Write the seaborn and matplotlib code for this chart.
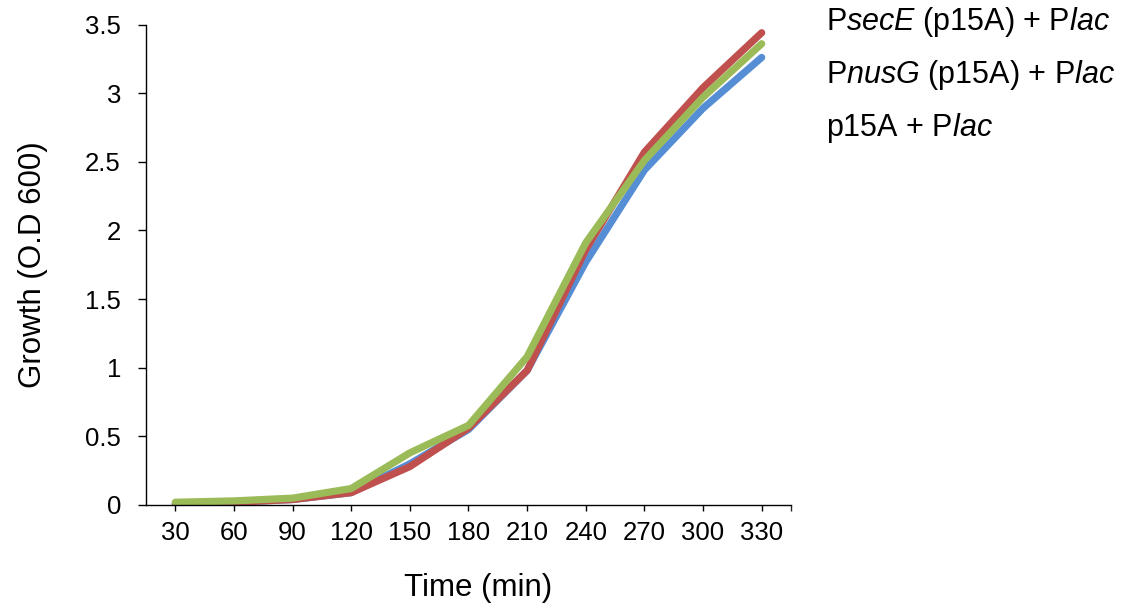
import matplotlib
matplotlib.use("Agg")
import seaborn as sns
from matplotlib import pyplot as plt
from matplotlib.ticker import FuncFormatter, FixedLocator
import pandas as pd

sns.set_theme(style="ticks")
plt.rcParams["font.family"] = ["Liberation Sans", "DejaVu Sans"]
plt.rcParams["mathtext.fontset"] = "custom"
plt.rcParams["mathtext.rm"] = "Liberation Sans"
plt.rcParams["mathtext.it"] = "Liberation Sans:italic"

times = ["30", "60", "90", "120", "150", "180", "210", "240", "270", "300", "330"]
secE = [0.01, 0.02, 0.04, 0.09, 0.30, 0.55, 0.98, 1.77, 2.44, 2.89, 3.26]
nusG = [0.01, 0.02, 0.04, 0.09, 0.28, 0.56, 0.98, 1.86, 2.57, 3.04, 3.44]
p15A = [0.02, 0.03, 0.05, 0.12, 0.38, 0.58, 1.08, 1.91, 2.51, 2.97, 3.36]

labels = [r"P$\it{secE}$ (p15A) + P$\it{lac}$",
          r"P$\it{nusG}$ (p15A) + P$\it{lac}$",
          r"p15A + P$\it{lac}$"]
colors = ["#558ED5", "#C0504D", "#9BBB59"]

df = pd.concat([
    pd.DataFrame({"Time": times, "OD": vals, "Strain": lab})
    for vals, lab in zip([secE, nusG, p15A], labels)
])

fig = plt.figure(figsize=(11.24, 6.10), dpi=100)
ax = fig.add_axes([146 / 1124, 1 - 505 / 610, (791 - 146) / 1124, (505 - 24.5) / 610])

sns.lineplot(data=df, x="Time", y="OD", hue="Strain", hue_order=labels,
             palette=colors, linewidth=5.2, solid_capstyle="round",
             solid_joinstyle="round", ax=ax, legend=False)

ax.set_xlim(-0.5, 10.5)
ax.set_ylim(0, 3.5)
ax.set_yticks([0, 0.5, 1, 1.5, 2, 2.5, 3, 3.5])
ax.yaxis.set_major_formatter(FuncFormatter(lambda v, p: "%g" % v))
ax.xaxis.set_minor_locator(FixedLocator([10.5]))

ax.set_xlabel("Time (min)", fontsize=22.5, color="black", va="center")
ax.set_ylabel("Growth (O.D 600)", fontsize=22.5, color="black", va="center")
ax.xaxis.set_label_coords((478 - 146) / 645, (505 - 588) / 480.5)
ax.yaxis.set_label_coords((33 - 146) / 645, 0.5)
ax.tick_params(axis="both", labelsize=18.5, colors="black", width=1.0)
ax.tick_params(axis="y", length=6, pad=12)
ax.tick_params(axis="x", which="both", length=4.5, pad=7)
sns.despine(ax=ax)
for s in ["left", "bottom"]:
    ax.spines[s].set_color("black")
    ax.spines[s].set_linewidth(1.0)

for i, lab in enumerate(labels):
    fig.text(826 / 1124, 1 - (22 + 53 * i) / 610, lab, fontsize=22,
             ha="left", va="center", color="black")

fig.savefig("out.png", dpi=100)
